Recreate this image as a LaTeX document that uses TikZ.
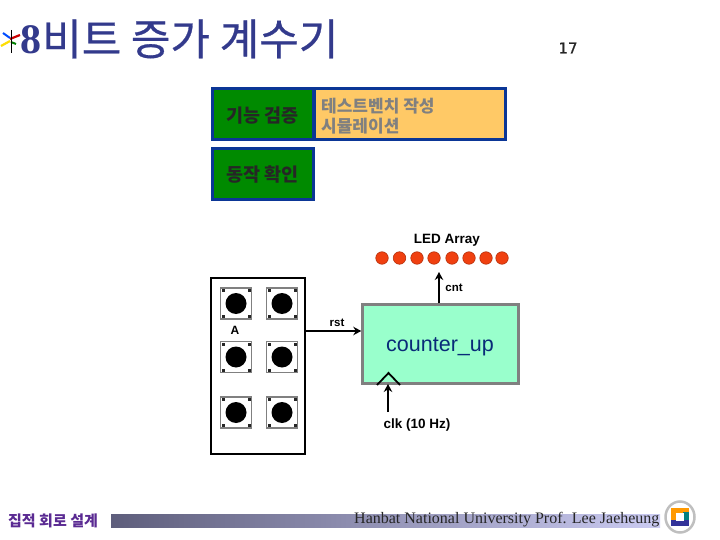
\documentclass[tikz,border=0pt]{standalone}
\usepackage{fontspec}
\setmainfont{Liberation Serif}
\setsansfont{Liberation Sans}
\newfontfamily\kor{Noto Sans CJK KR}
\newfontfamily\kortitle[FakeBold=0.6]{Noto Sans CJK KR}
\newfontfamily\numfont[FakeBold=0.5]{DejaVu Sans}
\usetikzlibrary{arrows.meta}
\definecolor{navy}{HTML}{333A8C}
\definecolor{boxblue}{HTML}{0B3696}
\definecolor{boxgreen}{HTML}{008A00}
\definecolor{boxorange}{HTML}{FFC966}
\definecolor{mint}{HTML}{99FFCC}
\definecolor{ledred}{HTML}{F04010}
\definecolor{footpurple}{HTML}{5A2A92}
\definecolor{barleft}{HTML}{5E5E7C}
\definecolor{barright}{HTML}{CBCBF2}
\tikzset{
 x=1pt,y=-1pt,
 greenbox/.style={draw=boxblue,line width=3pt,fill=boxgreen,inner sep=0pt,minimum width=101pt,minimum height=51pt},
 greenlabel/.style={inner sep=0pt,font=\kor\bfseries\fontsize{18.5}{18.5}\selectfont,text=black!85},
 led/.style={circle,draw=ledred!75!black,line width=.6pt,fill=ledred,minimum size=12.5pt,inner sep=0pt},
 sig/.style={font=\sffamily\bfseries\fontsize{13.5}{13.5}\selectfont,inner sep=0pt},
 sigsmall/.style={font=\sffamily\bfseries\fontsize{11.5}{11.5}\selectfont,inner sep=0pt},
 wire/.style={line width=2.6pt,-{Stealth[length=8pt,width=8.5pt]}},
 pad/.style={draw=black!50,line width=1.8pt,fill=white,minimum size=31pt,inner sep=0pt},
 padcap/.style={circle,fill=black,minimum size=21pt,inner sep=0pt},
 pin/.style={fill=black!85,minimum size=3pt,inner sep=0pt},
}
\newcommand{\keypad}[2]{%
 \node[pad] (k#1) at (#2) {};
 \node[padcap] at (k#1.center) {};
 \foreach \sx/\sy in {-13/-13,13/-13,-13/13,13/13}{\node[pin,shift={(\sx,\sy)}] at (k#1.center) {};}
}
\begin{document}
\begin{tikzpicture}
\useasboundingbox (0,0) rectangle (720,540);
% title icon
\draw[line width=2pt,blue!70!cyan] (3,33) -- (10,38);
\draw[line width=2.2pt,red!80!black] (10,39) -- (20,35);
\draw[line width=2.2pt,yellow!80!orange] (1,46) -- (10,41);
\draw[line width=2pt,green!50!black] (11,42) -- (16,44);
\draw[line width=1pt,black] (11,30) -- (11,53);
\node[anchor=base west,inner sep=0pt,text=navy,font=\bfseries\fontsize{42}{42}\selectfont] (eight) at (20,54) {8};
\node[anchor=base west,inner sep=0pt,text=navy,font=\kortitle\fontsize{43}{43}\selectfont] (title) at (42,55) {비트 증가 계수기};
\node[inner sep=0pt,font=\numfont\fontsize{15}{15}\selectfont,text=black!85] (page) at (568,48) {17};
% boxes
\node[draw=boxblue,line width=3pt,fill=boxorange,minimum width=191pt,minimum height=51pt,inner sep=0pt] (orange) at (409.5,114) {};
\node[anchor=north west,inner sep=0pt,align=left,text=black!50,font=\kor\bfseries\fontsize{17}{20}\selectfont] (otext) at (321,98) {테스트벤치 작성\\시뮬레이션};
\node[greenbox] (verify) at (262.5,114) {};
\node[greenlabel] (verifyl) at (262.5,116) {기능 검증};
\node[greenbox] (check) at (262.5,174) {};
\node[greenlabel] (checkl) at (262.5,175) {동작 확인};
% LEDs
\node[sig] (ledlabel) at (447,240) {LED Array};
\foreach \i/\x in {1/382,2/399.5,3/417,4/434,5/452,6/469,7/486,8/502}{\node[led] (l\i) at (\x,258) {};}
% counter
\node[draw=black!50,line width=2.5pt,fill=mint,minimum width=156pt,minimum height=79pt,inner sep=0pt] (cnt) at (440.5,344) {};
\node[inner sep=0pt,text=boxblue!80!black,font=\sffamily\fontsize{21.5}{21.5}\selectfont] (cntname) at (440,347) {counter\_up};
\coordinate (ledin) at (439,272);
\draw[wire] (cnt.north -| ledin) -- (ledin);
\node[sigsmall] (cntl) at (454,288) {cnt};
% keypad
\node[draw=black,line width=1.4pt,fill=white,minimum width=94pt,minimum height=176pt,inner sep=0pt] (panel) at (258,366) {};
\keypad{a}{236,303.5}
\keypad{b}{282,303.5}
\keypad{c}{236,357}
\keypad{d}{282,357}
\keypad{e}{236,412.5}
\keypad{f}{282,412.5}
\node[font=\sffamily\bfseries\fontsize{12}{12}\selectfont,inner sep=0pt] (alab) at (235,330) {A};
\coordinate (rstin) at ([yshift=13pt]cnt.west);
\draw[wire] (rstin -| panel.east) -- (rstin);
\node[sigsmall] (rstl) at (337,323) {rst};
% clock
\coordinate (clkt) at (388,384);
\coordinate (clkb) at (388,412);
\draw[wire] (clkb) -- (clkt);
\draw[line width=1.8pt,black] (377,385) -- (388.5,373) -- (400,385);
\node[sig] (clkl) at (417,425) {clk (10 Hz)};
% footer
\node[anchor=west,inner sep=0pt,text=footpurple,font=\kor\bfseries\fontsize{15}{15}\selectfont] (foot) at (8,521) {집적 회로 설계};
\fill[left color=barleft,right color=barright] (111,514) rectangle (660,527);
\node[anchor=west,inner sep=0pt,font=\fontsize{16}{16}\selectfont,text=black!85] (uni) at (354,520) {Hanbat National University Prof. Lee Jaeheung};
% logo
\draw[line width=2.5pt,black!25,fill=white] (680,517) ellipse (14.5pt and 15.5pt);
\fill[orange!80!yellow] (671,508) rectangle (689,514);
\fill[orange!80!yellow] (671,508) rectangle (677,520);
\fill[teal] (683,512) rectangle (689,526);
\fill[blue!50!black!80] (671,520) -- (689,520) -- (689,526) -- (671,526) -- cycle;
\fill[white] (676,513) rectangle (684,521);
\end{tikzpicture}
\end{document}
